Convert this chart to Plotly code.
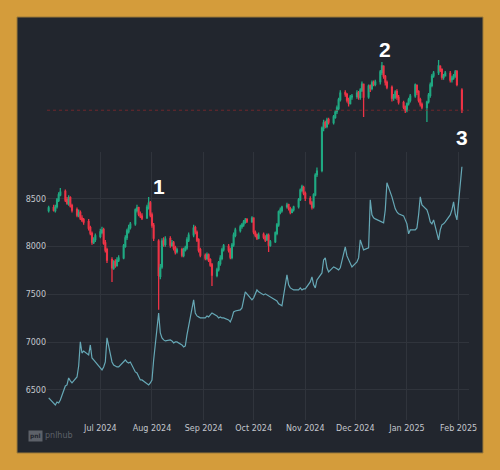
import pandas as pd
import plotly.graph_objects as go

# ---------------- data ----------------
dates = pd.bdate_range("2024-05-31", "2025-02-03")

candle_open = [
    8380,
    8410, 8380, 8420, 8485, 8545,
    8580, 8495, 8450, 8515, 8430,
    8390, 8330, 8360, 8300, 8285,
    8262, 8200, 8140, 8045, 8075,
    8110, 8150, 8180, 8040, 7970,
    7865, 7775, 7845, 7805, 7860,
    7885, 8005, 8095, 8160, 8200,
    8240, 8380, 8410, 8340, 8320,
    8305, 8410, 8460, 8335, 8225,
    8060, 7690, 7790, 8065, 8025,
    8085, 8015, 8040, 7990, 7950,
    7970, 7910, 7965, 7990, 8070,
    8125, 8200, 8150, 8075, 7970,
    7910, 7880, 7915, 7865, 7810,
    7700, 7760, 7825, 7880, 7970,
    8005, 7970, 7890, 8020, 8120,
    8170, 8210, 8230, 8255, 8285,
    8265, 8300, 8150, 8125, 8090,
    8130, 8100, 8075, 8120, 8015,
    8055, 8140, 8230, 8360, 8380,
    8420, 8440, 8400, 8360, 8390,
    8420, 8495, 8590, 8620, 8560,
    8505, 8460, 8420, 8545, 8755,
    8800, 9240, 9300, 9260, 9330,
    9300, 9355, 9415, 9450, 9540,
    9615, 9595, 9540, 9500, 9570,
    9575, 9615, 9565, 9640, 9700,
    9570, 9685, 9660, 9720, 9700,
    9730, 9825, 9890, 9785, 9720,
    9670, 9560, 9570, 9625, 9565,
    9510, 9465, 9430, 9500, 9535,
    9580, 9690, 9625, 9540, 9490,
    9460, 9520, 9585, 9690, 9790,
    9825, 9890, 9855, 9775, 9790,
    9815, 9750, 9765, 9790, 9835,
    9640,
]
candle_close = [
    8406,
    8385, 8416, 8490, 8542, 8573,
    8490, 8458, 8510, 8427, 8385,
    8332, 8353, 8301, 8280, 8259,
    8196, 8144, 8050, 8071, 8113,
    8155, 8175, 8039, 7966, 7861,
    7778, 7841, 7809, 7861, 7882,
    8008, 8092, 8165, 8196, 8238,
    8385, 8406, 8343, 8322, 8301,
    8416, 8458, 8332, 8228, 8092,
    7700, 7780, 8060, 8030, 8080,
    8018, 8039, 7987, 7945, 7966,
    7914, 7966, 7987, 8071, 8123,
    8196, 8155, 8071, 7966, 7914,
    7882, 7914, 7861, 7809, 7704,
    7757, 7830, 7882, 7966, 8008,
    7966, 7893, 8018, 8123, 8175,
    8207, 8228, 8259, 8280, 8270,
    8301, 8155, 8123, 8092, 8123,
    8102, 8071, 8123, 8018, 8050,
    8144, 8228, 8364, 8385, 8416,
    8437, 8406, 8364, 8385, 8416,
    8490, 8594, 8626, 8563, 8510,
    8458, 8416, 8542, 8751, 8793,
    9243, 9296, 9264, 9327, 9306,
    9359, 9411, 9453, 9537, 9610,
    9600, 9537, 9505, 9568, 9578,
    9610, 9568, 9641, 9704, 9568,
    9683, 9662, 9715, 9704, 9725,
    9830, 9893, 9788, 9725, 9673,
    9558, 9568, 9620, 9568, 9515,
    9463, 9432, 9495, 9537, 9578,
    9694, 9620, 9537, 9495, 9463,
    9515, 9589, 9694, 9788, 9819,
    9893, 9851, 9777, 9788, 9819,
    9746, 9767, 9788, 9830, 9700,
    9430,
]
candle_high = [
    8430,
    8440, 8440, 8510, 8570, 8615,
    8600, 8520, 8540, 8530, 8450,
    8410, 8390, 8380, 8330, 8300,
    8290, 8220, 8160, 8100, 8140,
    8190, 8210, 8200, 8070, 7990,
    7890, 7860, 7870, 7890, 7910,
    8030, 8120, 8190, 8230, 8260,
    8400, 8440, 8420, 8370, 8350,
    8440, 8520, 8480, 8360, 8250,
    8080, 7820, 8090, 8100, 8110,
    8110, 8070, 8060, 8010, 7990,
    7990, 7990, 8010, 8100, 8150,
    8230, 8220, 8170, 8090, 7990,
    7930, 7940, 7930, 7880, 7830,
    7780, 7850, 7910, 7990, 8030,
    8030, 7990, 8040, 8150, 8200,
    8230, 8250, 8280, 8300, 8300,
    8320, 8310, 8170, 8140, 8150,
    8150, 8120, 8140, 8140, 8070,
    8160, 8250, 8380, 8410, 8430,
    8460, 8450, 8420, 8400, 8430,
    8510, 8610, 8650, 8640, 8580,
    8530, 8480, 8560, 8770, 8830,
    9260, 9330, 9320, 9350, 9350,
    9380, 9430, 9480, 9560, 9640,
    9640, 9610, 9560, 9590, 9600,
    9640, 9630, 9660, 9730, 9710,
    9700, 9700, 9740, 9740, 9750,
    9850, 9934, 9900, 9800, 9740,
    9690, 9600, 9640, 9650, 9590,
    9530, 9480, 9510, 9560, 9600,
    9710, 9700, 9640, 9560, 9510,
    9530, 9610, 9720, 9810, 9840,
    9955, 9900, 9870, 9810, 9840,
    9840, 9790, 9810, 9850, 9850,
    9660,
]
candle_low = [
    8360,
    8370, 8360, 8400, 8470, 8530,
    8470, 8440, 8430, 8410, 8360,
    8310, 8310, 8280, 8260, 8230,
    8170, 8120, 8020, 8030, 8050,
    8090, 8130, 8020, 7940, 7830,
    7631, 7760, 7780, 7790, 7840,
    7870, 7990, 8070, 8140, 8180,
    8220, 8360, 8320, 8300, 8280,
    8290, 8390, 8310, 8200, 8060,
    7340, 7660, 7770, 8000, 8000,
    7990, 8000, 7960, 7920, 7930,
    7890, 7890, 7950, 7970, 8050,
    8100, 8130, 8050, 7940, 7890,
    7860, 7860, 7840, 7790, 7590,
    7680, 7740, 7800, 7860, 7950,
    7940, 7870, 7870, 8000, 8100,
    8150, 8190, 8210, 8240, 8250,
    8250, 8130, 8100, 8070, 8080,
    8080, 8050, 8060, 7945, 8000,
    8040, 8120, 8210, 8340, 8360,
    8400, 8380, 8340, 8350, 8370,
    8400, 8480, 8570, 8540, 8480,
    8440, 8390, 8400, 8530, 8730,
    8780, 9210, 9240, 9240, 9280,
    9280, 9340, 9390, 9430, 9520,
    9570, 9510, 9470, 9490, 9540,
    9550, 9540, 9540, 9620, 9359,
    9550, 9620, 9640, 9680, 9680,
    9700, 9800, 9760, 9690, 9650,
    9520, 9530, 9550, 9540, 9490,
    9440, 9400, 9410, 9480, 9510,
    9560, 9590, 9510, 9470, 9440,
    9306, 9500, 9560, 9670, 9770,
    9800, 9830, 9750, 9750, 9790,
    9720, 9720, 9750, 9770, 9680,
    9400,
]

line_values = [
    6417,
    6353, 6343, 6374, 6364, 6395,
    6542, 6553, 6626, 6595, 6574,
    6636, 6751, 7003, 6887, 6908,
    6867, 6971, 6835, 6814, 6793,
    6731, 6710, 6741, 6793, 7045,
    6793, 6762, 6751, 6741, 6741,
    6804, 6814, 6793, 6783, 6793,
    6689, 6678, 6647, 6605, 6605,
    6563, 6553, 6574, 6605, 6814,
    7306, 7097, 7045, 7024, 7013,
    7024, 7013, 6992, 7003, 7003,
    6971, 6950, 6961, 7076, 7160,
    7443, 7306, 7275, 7265, 7254,
    7254, 7275, 7265, 7285, 7306,
    7275, 7254, 7265, 7254, 7254,
    7233, 7212, 7254, 7317, 7327,
    7338, 7359, 7443, 7527, 7506,
    7443, 7464, 7516, 7547, 7527,
    7495, 7506, 7495, 7485, 7474,
    7443, 7432, 7401, 7390, 7380,
    7704, 7600, 7568, 7558, 7547,
    7547, 7568, 7547, 7558, 7558,
    7631, 7683, 7600, 7568, 7652,
    7725, 7861, 7882, 7778, 7736,
    7788, 7778, 7767, 7757, 7778,
    7997, 7903, 7861, 7820, 7788,
    7841, 7882, 8071, 8018, 7966,
    7987, 8490, 8332, 8301, 8290,
    8270, 8259, 8249, 8385, 8668,
    8521, 8458, 8395, 8364, 8343,
    8322, 8280, 8238, 8134, 8175,
    8175, 8196, 8332, 8521, 8437,
    8385, 8332, 8259, 8238, 8280,
    8071, 8175, 8228, 8238, 8259,
    8332, 8385, 8469, 8343, 8280,
    8835,
]

level_value = 9430
y_tick_values = [6500, 7000, 7500, 8000, 8500]
x_tick_values = ["2024-07-01", "2024-08-01", "2024-09-01", "2024-10-01",
                 "2024-11-01", "2024-12-01", "2025-01-01", "2025-02-01"]
x_range = ["2024-05-30", "2025-02-07 06:00"]
y_range = [6186, 8990]
y2_range = [6186, 10270]

marks = [
    ("1", "2024-08-05 08:00", 8626),
    ("2", "2024-12-18 17:00", 10070),
    ("3", "2025-02-02 19:00", 9149),
]

# ---------------- styling ----------------
GOLD = "#d49c3b"
DARK = "#22262e"
GRID = "#30343c"
TXT = "#c4c7cd"
LOGO = "#5d6169"
FONT = "DejaVu Sans"

fig = go.Figure()

fig.add_trace(go.Scatter(
    x=dates, y=line_values, mode="lines",
    line=dict(color="#66a8b6", width=1.2),
    xaxis="x", yaxis="y", showlegend=False, hoverinfo="skip",
))

fig.add_trace(go.Candlestick(
    x=dates, open=candle_open, high=candle_high, low=candle_low, close=candle_close,
    increasing=dict(line=dict(color="#1fa982", width=1.3), fillcolor="#1fa982"),
    decreasing=dict(line=dict(color="#ee3346", width=1.3), fillcolor="#ee3346"),
    whiskerwidth=0,
    xaxis="x2", yaxis="y2", showlegend=False,
))

shapes = [
    dict(type="rect", xref="paper", yref="paper",
         x0=(17 - 47) / 422, x1=(483 - 47) / 422,
         y0=(420 - 453) / 390, y1=(420 - 17) / 390,
         fillcolor=DARK, line=dict(color="#9c7a3a", width=1), layer="below"),
    dict(type="line", xref="paper", yref="y2", x0=0, x1=1,
         y0=level_value, y1=level_value,
         line=dict(color="rgba(150,40,45,0.85)", width=0.8, dash="dot")),
]

annotations = []
for label, xd, yv in marks:
    annotations.append(dict(
        text=label, x=xd, y=yv, xref="x2", yref="y2", showarrow=False,
        font=dict(family="Liberation Sans, Arial", size=21, color="white", weight="bold"),
    ))

# logo: small badge + wordmark
annotations.append(dict(
    text="<b>pnl</b>", xref="paper", yref="paper",
    x=(28 - 47) / 422, y=(420 - 442) / 390, xanchor="left", showarrow=False,
    font=dict(family=FONT, size=6, color=DARK), bgcolor=LOGO,
    borderpad=1,
))
annotations.append(dict(
    text="pnlhub", xref="paper", yref="paper",
    x=(43 - 47) / 422, y=(420 - 442) / 390, xanchor="left", showarrow=False,
    font=dict(family=FONT, size=8, color=LOGO),
))

fig.update_layout(
    width=500, height=470,
    margin=dict(l=47, r=31, t=30, b=50),
    paper_bgcolor=GOLD,
    plot_bgcolor="rgba(0,0,0,0)",
    font=dict(family=FONT, size=8, color=TXT),
    shapes=shapes,
    annotations=annotations,
    showlegend=False,
    xaxis=dict(
        domain=[0, 1], anchor="y", type="date", range=x_range,
        showgrid=True, gridcolor=GRID, gridwidth=1, zeroline=False,
        tickvals=x_tick_values, tickformat="%b %Y", ticks="", showline=False,
        ticklabelstandoff=2,
        rangeslider=dict(visible=False),
        tickfont=dict(family=FONT, size=8, color=TXT),
    ),
    yaxis=dict(
        domain=[0, (420 - 152) / 390], anchor="x", range=y_range,
        tickvals=y_tick_values, showgrid=True, gridcolor=GRID, zeroline=False,
        ticks="", showline=False,
        tickfont=dict(family=FONT, size=8, color=TXT),
    ),
    xaxis2=dict(
        domain=[0, 1], anchor="y2", type="date", matches="x", range=x_range,
        visible=False, showgrid=False, rangeslider=dict(visible=False),
    ),
    yaxis2=dict(
        domain=[0, 1], anchor="x2", range=y2_range,
        visible=False, showgrid=False, zeroline=False,
    ),
)

fig.write_html("out.html")
